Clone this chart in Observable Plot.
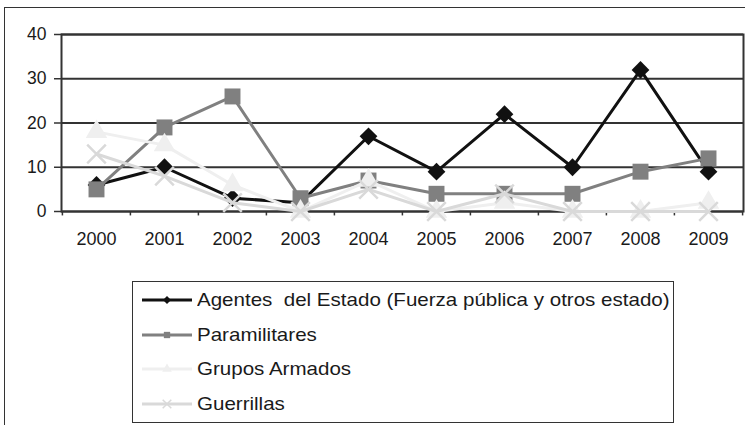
<!DOCTYPE html>
<html><head><meta charset="utf-8">
<script src="https://cdn.jsdelivr.net/npm/d3@7"></script>
<script src="https://cdn.jsdelivr.net/npm/@observablehq/plot@0.6"></script>
<style>
body{margin:0;background:#fff;font-family:"Liberation Sans",Arial,sans-serif;}
#wrap{position:relative;width:745px;height:425px;overflow:hidden;background:#fff;}
#frame{position:absolute;left:4px;top:7px;width:800px;height:500px;border:1.5px solid #333;}
#chart{position:absolute;left:0;top:0;}
#legend{position:absolute;left:132px;top:281px;width:542px;height:142px;border:1.5px solid #333;box-sizing:border-box;background:#fff;}
.row{position:absolute;left:0;height:34px;display:flex;align-items:center;font-size:18.5px;color:#1a1a1a;white-space:pre;}
.row svg{margin-left:9px;margin-right:5px;}
.row span{display:inline-block;transform:scaleX(1.11);transform-origin:left center;}
</style></head>
<body>
<div id="wrap"><div id="frame"></div><div id="chart"></div><div id="legend"></div></div>
<script>
const years = ["2000","2001","2002","2003","2004","2005","2006","2007","2008","2009"];
const seriesNames = ["Agentes  del Estado (Fuerza pública y otros estado)","Paramilitares","Grupos Armados","Guerrillas"];
const agentes = [6,10,3,2,17,9,22,10,32,9];
const paramilitares = [5,19,26,3,7,4,4,4,9,12];
const grupos = [18,15,6,0,7,0,2,0,0,2];
const guerrillas = [13,8,2,0,5,0,4,0,0,0];
const yTicks = [0,10,20,30,40];

const seriesValues = [agentes, paramilitares, grupos, guerrillas];
const styles = [
  {color:"#111", symbol:"diamond2", r:8, fill:true, sw:3},
  {color:"#808080", symbol:"square", r:9, fill:true, sw:3},
  {color:"#efefef", symbol:"triangle", r:8, fill:true, sw:3},
  {color:"#d9d9d9", symbol:"times", r:8.5, fill:false, sw:3}
];
const data = seriesNames.map((name, k) => years.map((y, i) => ({year:y, value:seriesValues[k][i], series:name})));

const marks = [
  Plot.ruleY(yTicks, {stroke:"#333", strokeWidth:2}),
  Plot.frame({stroke:"#333", strokeWidth:2}),
  Plot.ruleX(years, {x:d=>d, y1:0, y2:-1, dx:-34.1, stroke:"#333", strokeWidth:1.5}),
  Plot.ruleX(years.slice(-1), {x:d=>d, y1:0, y2:-1, dx:34.1, stroke:"#333", strokeWidth:1.5}),
  Plot.axisY(yTicks, {tickSize:7, tickPadding:8, fontSize:17.5, stroke:"#333", fill:"#1a1a1a", strokeWidth:1.5, label:null}),
  Plot.axisX({tickSize:0, tickPadding:21, fontSize:18, fill:"#1a1a1a", label:null})
];
data.forEach((rows, k) => {
  const s = styles[k];
  marks.push(Plot.line(rows, {x:"year", y:"value", stroke:s.color, strokeWidth:s.sw, curve:"linear"}));
  if (s.fill) marks.push(Plot.dot(rows, {x:"year", y:"value", symbol:()=>s.symbol, r:s.r, fill:s.color, stroke:"none"}));
  else marks.push(Plot.dot(rows, {x:"year", y:"value", symbol:()=>s.symbol, r:s.r, stroke:s.color, strokeWidth:2.5, fill:"none"}));
});

const chart = Plot.plot({
  width:745, height:260,
  marginLeft:61, marginRight:2, marginTop:34, marginBottom:49,
  style:{fontFamily:'"Liberation Sans", Arial, sans-serif', background:"transparent"},
  x:{type:"point", domain:years, padding:0.5, axis:null},
  y:{domain:[0,40], axis:null},
  symbol:{type:"identity"},
  marks
});
document.getElementById("chart").appendChild(chart);

// legend
const legend = document.getElementById("legend");
const symMap = {diamond2:d3.symbolDiamond2, square:d3.symbolSquare, triangle:d3.symbolTriangle, times:d3.symbolTimes};
seriesNames.forEach((name, k) => {
  const s = styles[k];
  const row = document.createElement("div");
  row.className = "row";
  row.style.top = (1 + k*34.6) + "px";
  const path = d3.symbol().type(symMap[s.symbol]).size(s.symbol==="times"?50:40)();
  const mk = s.fill ? `<path d="${path}" transform="translate(25,8)" fill="${s.color}"/>`
                    : `<path d="${path}" transform="translate(25,8)" fill="none" stroke="${s.color}" stroke-width="1.5"/>`;
  row.innerHTML = `<svg width="50" height="16"><line x1="0" x2="50" y1="8" y2="8" stroke="${s.color}" stroke-width="3"/>${mk}</svg><span></span>`;
  row.querySelector("span").textContent = name;
  legend.appendChild(row);
});
</script>
</body></html>
